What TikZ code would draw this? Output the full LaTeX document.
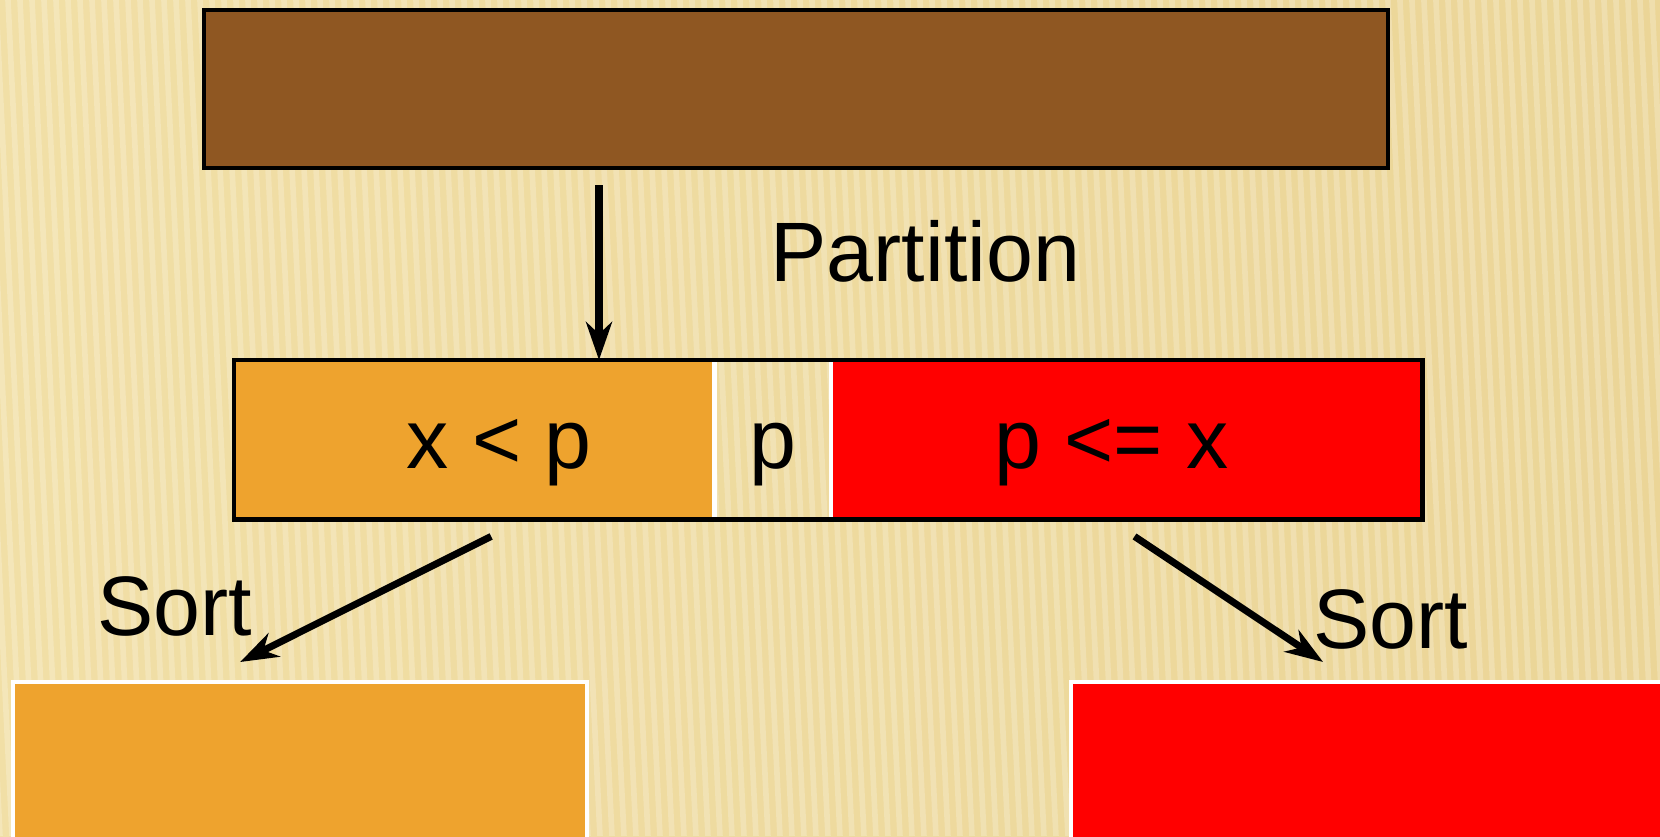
\documentclass[tikz,border=0pt]{standalone}
\usepackage{fontspec}
\setmainfont{Liberation Sans}
\usetikzlibrary{arrows.meta,positioning}

\definecolor{bgEdge}{HTML}{F1DFA6}
\definecolor{bgMid}{HTML}{FCF0C8}
\definecolor{bgRight}{HTML}{EBD597}
\definecolor{srcBrown}{HTML}{8F5722}
\definecolor{loOrange}{HTML}{EEA32E}
\definecolor{hiRed}{HTML}{FF0000}

\tikzset{
  bigfont/.style={font=\fontsize{24}{28}\selectfont},
  part/.style={bigfont, minimum height=1.58cm, inner sep=0pt,
               text height=0.62cm, text depth=0.04cm},
  sortbox/.style={draw=white, line width=1.2pt, minimum height=2.2cm, inner sep=0pt},
  arr/.style={line width=2pt, -{Stealth[length=0.38cm,width=0.26cm,inset=0.12cm]}},
  lbl/.style={bigfont, inner sep=0pt}
}

\begin{document}
\begin{tikzpicture}
    % --- SETTINGS ---
    \def\W{16.6}  % picture width
    \def\H{8.36}  % picture height
    \def\BarH{1.58} % height of the bars

    % --- BACKGROUND ---
    \useasboundingbox (0,0) rectangle (\W,-\H);
    \clip (0,0) rectangle (\W,-\H);
    \shade[left color=bgEdge, middle color=bgMid, right color=bgRight] (0,0) rectangle (\W,-\H);
    % thin slanted stripes
    \foreach \i in {0,...,145} {
        \draw[white, opacity=0.22, line width=1.6pt] (\i*0.12-0.4,0) -- (\i*0.12,-\H);
    }

    % --- INPUT ARRAY ---
    \node[draw=black, line width=1.4pt, fill=srcBrown, minimum width=11.84cm,
          minimum height=\BarH cm, inner sep=0pt] (src) at (7.96,-0.89) {};

    % --- PARTITIONED ARRAY ---
    \node[part, fill=loOrange, minimum width=4.79cm, anchor=north west] (lo) at (2.34,-3.60) {\rule{0.5cm}{0pt}x < p};
    \node[part, minimum width=1.15cm, right=0pt of lo] (piv) {p};
    \node[part, fill=hiRed, minimum width=5.90cm, right=0pt of piv] (hi) {p <= x\rule{0.30cm}{0pt}};
    % white dividers, then the outer frame
    \draw[white, line width=1.2pt] (piv.north west) -- (piv.south west)
                                   (piv.north east) -- (piv.south east);
    \draw[black, line width=1.4pt] (lo.north west) rectangle (hi.south east);

    % --- SORTED HALVES ---
    \node[sortbox, fill=loOrange, minimum width=5.74cm, anchor=north west] (lsort) at (0.11,-6.80) {};
    \node[sortbox, fill=hiRed, minimum width=6.20cm, anchor=north west] (rsort) at (10.69,-6.80) {};

    % --- ARROWS ---
    \coordinate (pin) at ([xshift=3.65cm]lo.north west);
    \draw[arr, shorten <=0.15cm] (pin |- src.south) -- (pin);
    \draw[arr] ([xshift=0.17cm,yshift=-0.17cm]lo.south) -- ([xshift=-0.60cm,yshift=0.18cm]lsort.north);
    \draw[arr] ([xshift=0.08cm,yshift=-0.17cm]hi.south) -- ([xshift=-0.58cm,yshift=0.18cm]rsort.north);

    % --- LABELS ---
    \node[lbl, anchor=base west] (partlbl) at (7.70,-2.81) {Partition};
    \node[lbl, anchor=base west] (lsortlbl) at (0.97,-6.35) {Sort};
    \node[lbl, anchor=base west] (rsortlbl) at (13.13,-6.48) {Sort};

\end{tikzpicture}
\end{document}
